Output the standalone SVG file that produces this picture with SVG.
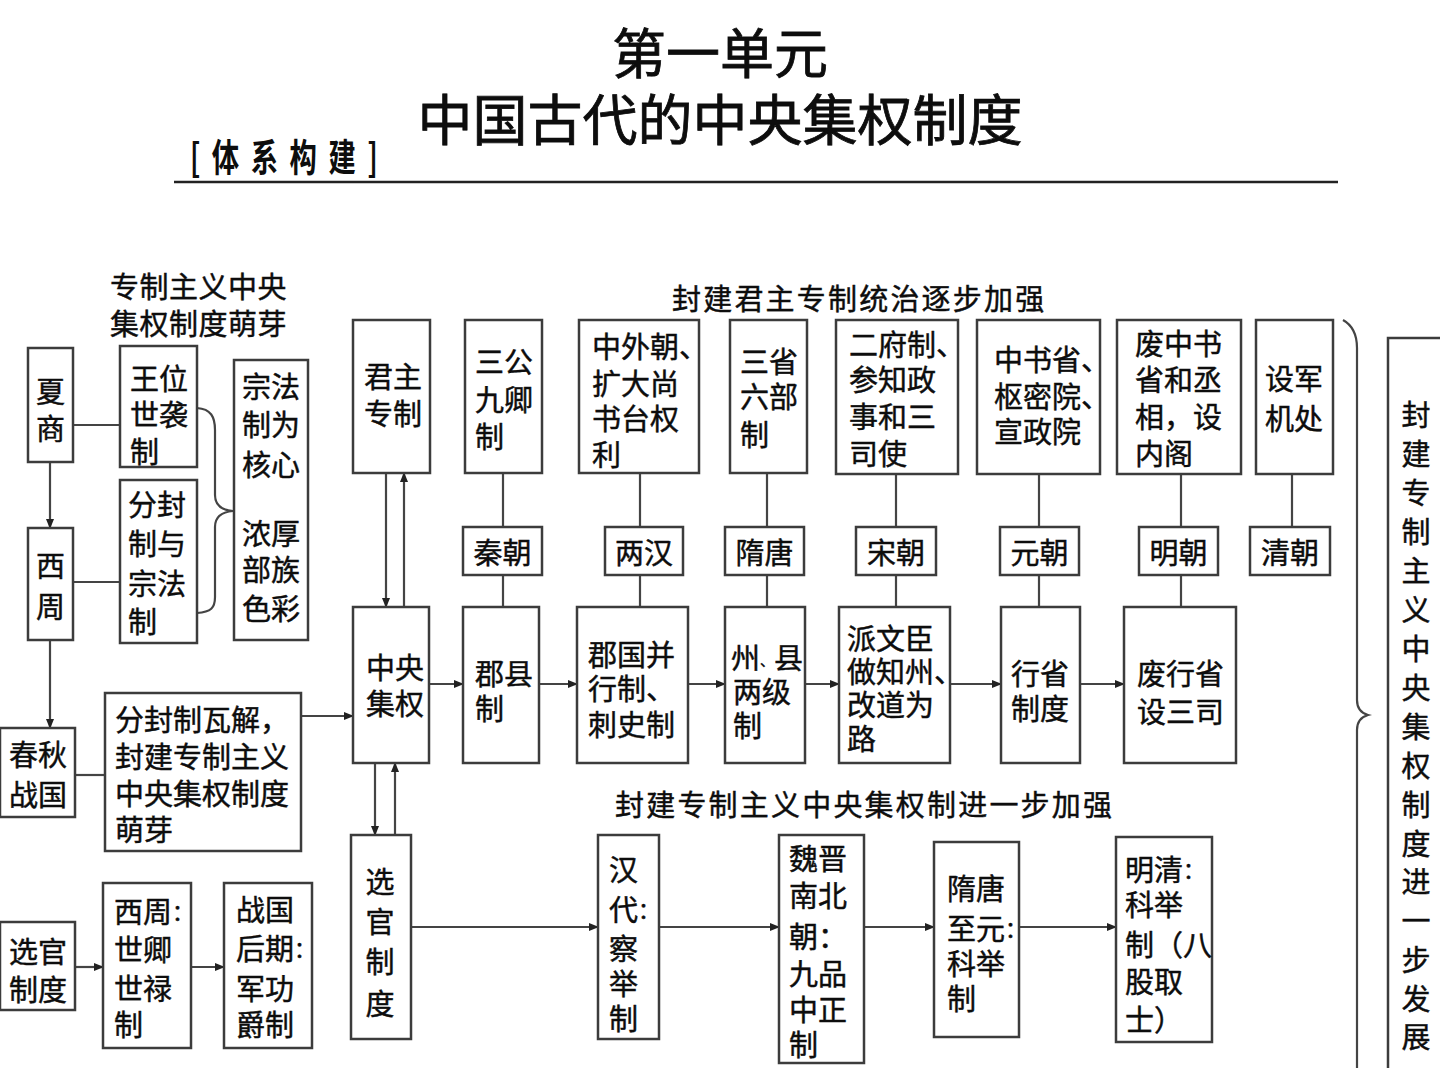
<svg xmlns="http://www.w3.org/2000/svg" width="1440" height="1080" viewBox="0 0 1440 1080">
<style>
text{font-family:"Noto Sans CJK SC","Noto Sans CJK TC",sans-serif;fill:#0d0d0d;dominant-baseline:central}
.t{font-size:29px;stroke:#0d0d0d;stroke-width:0.45}
.m{text-anchor:middle}
.box{fill:#fff;stroke:#3c3c3c;stroke-width:2.5}
.c{fill:none;stroke:#444;stroke-width:2.2}
.a{marker-end:url(#ah)}
.lbl{font-size:29px;letter-spacing:2.2px;stroke:#0d0d0d;stroke-width:0.45}
.p{font-size:22px}
.hd{stroke:#0d0d0d;stroke-width:0.8}
</style>
<defs>
<marker id="ah" markerWidth="10" markerHeight="10" refX="9" refY="5" orient="auto" markerUnits="userSpaceOnUse"><path d="M0,1 L10,5 L0,9 z" fill="#222"/></marker>
</defs>
<rect width="1440" height="1080" fill="#fff"/>

<g id="header">
<text x="720" y="50" class="m hd" font-size="54">第一单元</text>
<text x="720" y="116" class="m hd" font-size="55">中国古代的中央集权制度</text>
<text transform="translate(190,155) scale(0.72,1)" font-size="38" font-weight="bold" letter-spacing="16">[体系构建]</text>
<line x1="174" y1="182" x2="1338" y2="182" stroke="#222" stroke-width="2.5"/>
</g>

<g id="labels">
<text class="t" x="110" y="285" letter-spacing="0.5">专制主义中央</text>
<text class="t" x="110" y="322" letter-spacing="0.5">集权制度萌芽</text>
<text class="lbl" x="672" y="297">封建君主专制统治逐步加强</text>
<text class="lbl" x="615" y="803">封建专制主义中央集权制进一步加强</text>
</g>

<g id="connectors">
<line class="c a" x1="50" y1="462" x2="50" y2="528"/>
<line class="c a" x1="50" y1="640" x2="50" y2="728"/>
<line class="c" x1="73" y1="425" x2="120" y2="425"/>
<line class="c" x1="73" y1="582" x2="120" y2="582"/>
<line class="c" x1="75" y1="775" x2="105" y2="775"/>
<line class="c a" x1="301" y1="716" x2="353" y2="716"/>
<line class="c a" x1="75" y1="967" x2="103" y2="967"/>
<line class="c a" x1="191" y1="967" x2="224" y2="967"/>
<path class="c" d="M197,408 C211,409 215,417 215,430 L215,495 C215,505 221,510 233,511 C221,512 215,517 215,527 L215,597 C215,608 211,612 197,613"/>
<line class="c a" x1="386" y1="473" x2="386" y2="607"/>
<line class="c a" x1="404" y1="607" x2="404" y2="473"/>
<line class="c a" x1="375" y1="763" x2="375" y2="835"/>
<line class="c a" x1="395" y1="835" x2="395" y2="763"/>
<line class="c" x1="503" y1="473" x2="503" y2="527"/>
<line class="c" x1="503" y1="575" x2="503" y2="607"/>
<line class="c" x1="640" y1="473" x2="640" y2="527"/>
<line class="c" x1="640" y1="575" x2="640" y2="607"/>
<line class="c" x1="767" y1="473" x2="767" y2="527"/>
<line class="c" x1="767" y1="575" x2="767" y2="607"/>
<line class="c" x1="896" y1="474" x2="896" y2="527"/>
<line class="c" x1="896" y1="575" x2="896" y2="607"/>
<line class="c" x1="1039" y1="474" x2="1039" y2="527"/>
<line class="c" x1="1039" y1="575" x2="1039" y2="607"/>
<line class="c" x1="1181" y1="474" x2="1181" y2="527"/>
<line class="c" x1="1181" y1="575" x2="1181" y2="607"/>
<line class="c" x1="1292" y1="474" x2="1292" y2="527"/>
<line class="c a" x1="429" y1="684" x2="463" y2="684"/>
<line class="c a" x1="539" y1="684" x2="577" y2="684"/>
<line class="c a" x1="688" y1="684" x2="725" y2="684"/>
<line class="c a" x1="805" y1="684" x2="839" y2="684"/>
<line class="c a" x1="950" y1="684" x2="1001" y2="684"/>
<line class="c a" x1="1080" y1="684" x2="1124" y2="684"/>
<line class="c a" x1="411" y1="927" x2="598" y2="927"/>
<line class="c a" x1="659" y1="927" x2="779" y2="927"/>
<line class="c a" x1="864" y1="927" x2="934" y2="927"/>
<line class="c a" x1="1019" y1="927" x2="1116" y2="927"/>
<path class="c" d="M1343,320 C1352,325 1357,333 1357,348 L1357,700 C1357,708 1361,713 1368,715 C1361,717 1357,722 1357,730 L1357,1068"/>
</g>

<g id="n-xiashang"><rect class="box" x="28" y="348" width="45" height="114"/><text class="t m"><tspan x="50.5" y="390">夏</tspan><tspan x="50.5" y="427">商</tspan></text></g>
<g id="n-xizhou"><rect class="box" x="28" y="528" width="45" height="112"/><text class="t m"><tspan x="50.5" y="564">西</tspan><tspan x="50.5" y="605">周</tspan></text></g>
<g id="n-wangwei"><rect class="box" x="120" y="346" width="77" height="121"/><text class="t"><tspan x="130" y="377">王位</tspan><tspan x="130" y="413">世袭</tspan><tspan x="130" y="450">制</tspan></text></g>
<g id="n-fenfeng"><rect class="box" x="120" y="480" width="77" height="163"/><text class="t"><tspan x="128" y="503">分封</tspan><tspan x="128" y="542">制与</tspan><tspan x="128" y="582">宗法</tspan><tspan x="128" y="620">制</tspan></text></g>
<g id="n-zongfa"><rect class="box" x="234" y="360" width="74" height="280"/><text class="t"><tspan x="242" y="385">宗法</tspan><tspan x="242" y="423">制为</tspan><tspan x="242" y="463">核心</tspan><tspan x="242" y="532">浓厚</tspan><tspan x="242" y="568">部族</tspan><tspan x="242" y="607">色彩</tspan></text></g>
<g id="n-chunqiu"><rect class="box" x="0" y="728" width="75" height="89"/><text class="t"><tspan x="9" y="753">春秋</tspan><tspan x="9" y="793">战国</tspan></text></g>
<g id="n-wajie"><rect class="box" x="105" y="693" width="196" height="158"/><text class="t"><tspan x="115" y="718">分封制瓦解，</tspan><tspan x="115" y="755">封建专制主义</tspan><tspan x="115" y="792">中央集权制度</tspan><tspan x="115" y="828">萌芽</tspan></text></g>
<g id="n-xuanguan-l"><rect class="box" x="0" y="922" width="75" height="88"/><text class="t"><tspan x="9" y="950">选官</tspan><tspan x="9" y="988">制度</tspan></text></g>
<g id="n-shiqing"><rect class="box" x="103" y="883" width="88" height="165"/><text class="t"><tspan x="114" y="910">西周<tspan class="p">：</tspan></tspan><tspan x="114" y="948">世卿</tspan><tspan x="114" y="987">世禄</tspan><tspan x="114" y="1023">制</tspan></text></g>
<g id="n-jungong"><rect class="box" x="224" y="883" width="88" height="165"/><text class="t"><tspan x="236" y="908">战国</tspan><tspan x="236" y="947">后期<tspan class="p">：</tspan></tspan><tspan x="236" y="987">军功</tspan><tspan x="236" y="1023">爵制</tspan></text></g>

<g id="n-junzhu"><rect class="box" x="353" y="320" width="77" height="153"/><text class="t"><tspan x="364" y="375">君主</tspan><tspan x="364" y="412">专制</tspan></text></g>
<g id="n-zhongyang"><rect class="box" x="353" y="607" width="76" height="156"/><text class="t"><tspan x="366" y="666">中央</tspan><tspan x="366" y="702">集权</tspan></text></g>
<g id="n-xuanguan"><rect class="box" x="351" y="835" width="60" height="204"/><text class="t m"><tspan x="380" y="880">选</tspan><tspan x="380" y="920">官</tspan><tspan x="380" y="960">制</tspan><tspan x="380" y="1002">度</tspan></text></g>

<g id="n-sangong"><rect class="box" x="465" y="320" width="77" height="153"/><text class="t"><tspan x="475" y="360">三公</tspan><tspan x="475" y="398">九卿</tspan><tspan x="475" y="435">制</tspan></text></g>
<g id="n-zhongwai"><rect class="box" x="579" y="320" width="120" height="153"/><text class="t"><tspan x="592" y="345">中外朝、</tspan><tspan x="592" y="382">扩大尚</tspan><tspan x="592" y="417">书台权</tspan><tspan x="592" y="453">利</tspan></text></g>
<g id="n-sansheng"><rect class="box" x="730" y="320" width="77" height="153"/><text class="t"><tspan x="740" y="360">三省</tspan><tspan x="740" y="395">六部</tspan><tspan x="740" y="433">制</tspan></text></g>
<g id="n-erfu"><rect class="box" x="836" y="320" width="122" height="154"/><text class="t"><tspan x="849" y="343">二府制、</tspan><tspan x="849" y="378">参知政</tspan><tspan x="849" y="415">事和三</tspan><tspan x="849" y="452">司使</tspan></text></g>
<g id="n-zhongshu"><rect class="box" x="977" y="320" width="123" height="154"/><text class="t"><tspan x="994" y="358">中书省、</tspan><tspan x="994" y="395">枢密院、</tspan><tspan x="994" y="430">宣政院</tspan></text></g>
<g id="n-feizhongshu"><rect class="box" x="1117" y="320" width="124" height="154"/><text class="t"><tspan x="1135" y="342">废中书</tspan><tspan x="1135" y="378">省和丞</tspan><tspan x="1135" y="415">相，设</tspan><tspan x="1135" y="452">内阁</tspan></text></g>
<g id="n-junjichu"><rect class="box" x="1256" y="320" width="77" height="154"/><text class="t"><tspan x="1265" y="377">设军</tspan><tspan x="1265" y="417">机处</tspan></text></g>

<g id="n-qin"><rect class="box" x="463" y="527" width="79" height="48"/><text class="t m" x="502.5" y="551">秦朝</text></g>
<g id="n-lianghan"><rect class="box" x="605" y="527" width="78" height="48"/><text class="t m" x="644" y="551">两汉</text></g>
<g id="n-suitang"><rect class="box" x="725" y="527" width="79" height="48"/><text class="t m" x="764.5" y="551">隋唐</text></g>
<g id="n-song"><rect class="box" x="856" y="527" width="80" height="48"/><text class="t m" x="896" y="551">宋朝</text></g>
<g id="n-yuan"><rect class="box" x="1000" y="527" width="79" height="48"/><text class="t m" x="1039.5" y="551">元朝</text></g>
<g id="n-ming"><rect class="box" x="1139" y="527" width="79" height="48"/><text class="t m" x="1178.5" y="551">明朝</text></g>
<g id="n-qing"><rect class="box" x="1250" y="527" width="80" height="48"/><text class="t m" x="1290" y="551">清朝</text></g>

<g id="n-junxian"><rect class="box" x="463" y="607" width="76" height="156"/><text class="t"><tspan x="475" y="672">郡县</tspan><tspan x="475" y="707">制</tspan></text></g>
<g id="n-junguo"><rect class="box" x="577" y="607" width="111" height="156"/><text class="t"><tspan x="588" y="653">郡国并</tspan><tspan x="588" y="687">行制、</tspan><tspan x="588" y="723">刺史制</tspan></text></g>
<g id="n-zhouxian"><rect class="box" x="725" y="607" width="80" height="156"/><text class="t"><tspan x="731" y="656">州<tspan font-size="14" dy="4">、</tspan><tspan dy="-4">县</tspan></tspan><tspan x="733" y="690">两级</tspan><tspan x="733" y="724">制</tspan></text></g>
<g id="n-paiwenchen"><rect class="box" x="839" y="607" width="111" height="156"/><text class="t"><tspan x="847" y="637">派文臣</tspan><tspan x="847" y="670">做知州、</tspan><tspan x="847" y="703">改道为</tspan><tspan x="847" y="737">路</tspan></text></g>
<g id="n-xingsheng"><rect class="box" x="1001" y="607" width="79" height="156"/><text class="t"><tspan x="1011" y="672">行省</tspan><tspan x="1011" y="707">制度</tspan></text></g>
<g id="n-sansi"><rect class="box" x="1124" y="607" width="112" height="156"/><text class="t"><tspan x="1137" y="672">废行省</tspan><tspan x="1137" y="710">设三司</tspan></text></g>

<g id="n-chaju"><rect class="box" x="598" y="835" width="61" height="204"/><text class="t"><tspan x="609" y="868">汉</tspan><tspan x="609" y="908">代<tspan class="p">：</tspan></tspan><tspan x="609" y="947">察</tspan><tspan x="609" y="982">举</tspan><tspan x="609" y="1017">制</tspan></text></g>
<g id="n-jiupin"><rect class="box" x="779" y="835" width="85" height="228"/><text class="t"><tspan x="789" y="857">魏晋</tspan><tspan x="789" y="894">南北</tspan><tspan x="789" y="935">朝：</tspan><tspan x="789" y="972">九品</tspan><tspan x="789" y="1008">中正</tspan><tspan x="789" y="1043">制</tspan></text></g>
<g id="n-keju1"><rect class="box" x="934" y="842" width="85" height="195"/><text class="t"><tspan x="947" y="887">隋唐</tspan><tspan x="947" y="927">至元<tspan class="p">：</tspan></tspan><tspan x="947" y="962">科举</tspan><tspan x="947" y="997">制</tspan></text></g>
<g id="n-keju2"><rect class="box" x="1116" y="837" width="96" height="205"/><text class="t"><tspan x="1125" y="868">明清<tspan class="p">：</tspan></tspan><tspan x="1125" y="903">科举</tspan><tspan x="1125" y="943">制（八</tspan><tspan x="1125" y="980">股取</tspan><tspan x="1125" y="1018">士）</tspan></text></g>

<g id="n-fazhan">
<path d="M1388,1068 V338 H1442" fill="none" stroke="#3c3c3c" stroke-width="2.5"/>
<text class="t m"><tspan x="1416" y="413">封</tspan><tspan x="1416" y="452">建</tspan><tspan x="1416" y="491">专</tspan><tspan x="1416" y="530">制</tspan><tspan x="1416" y="569">主</tspan><tspan x="1416" y="608">义</tspan><tspan x="1416" y="647">中</tspan><tspan x="1416" y="686">央</tspan><tspan x="1416" y="725">集</tspan><tspan x="1416" y="764">权</tspan><tspan x="1416" y="803">制</tspan><tspan x="1416" y="842">度</tspan><tspan x="1416" y="880">进</tspan><tspan x="1416" y="919">一</tspan><tspan x="1416" y="958">步</tspan><tspan x="1416" y="997">发</tspan><tspan x="1416" y="1035">展</tspan></text>
</g>
</svg>
